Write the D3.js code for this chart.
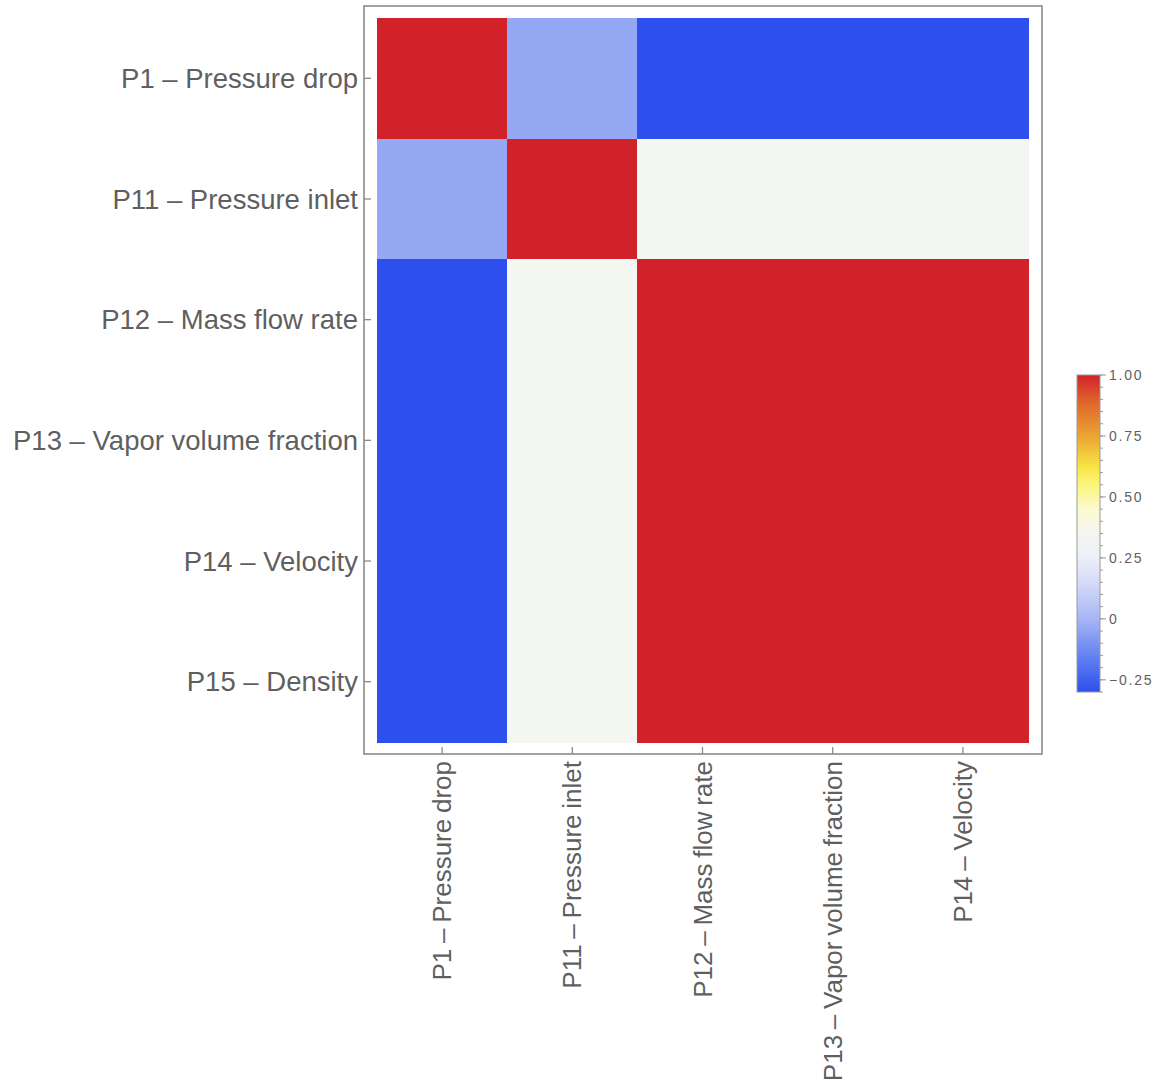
<!DOCTYPE html>
<html>
<head>
<meta charset="utf-8">
<script src="https://cdn.jsdelivr.net/npm/d3@7"></script>
<style>
  body { margin: 0; background: #fff; }
  text { font-family: "Liberation Sans", Arial, sans-serif; fill: #5f5f5f; }
</style>
</head>
<body>
<div id="chart"></div>
<script>
const width = 1161;
const height = 1082;

// row / column variables
const rowLabels = ["P1 – Pressure drop", "P11 – Pressure inlet", "P12 – Mass flow rate",
  "P13 – Vapor volume fraction", "P14 – Velocity", "P15 – Density"];
const colLabels = ["P1 – Pressure drop", "P11 – Pressure inlet", "P12 – Mass flow rate",
  "P13 – Vapor volume fraction", "P14 – Velocity"];

// correlation values, one array per row
const rowP1  = [1.00, -0.04, -0.30, -0.30, -0.30];
const rowP11 = [-0.04, 1.00, 0.35, 0.35, 0.35];
const rowP12 = [-0.30, 0.35, 1.00, 1.00, 1.00];
const rowP13 = [-0.30, 0.35, 1.00, 1.00, 1.00];
const rowP14 = [-0.30, 0.35, 1.00, 1.00, 1.00];
const rowP15 = [-0.30, 0.35, 1.00, 1.00, 1.00];
const matrix = [rowP1, rowP11, rowP12, rowP13, rowP14, rowP15];

// legend ticks
const legendTicks = [1.00, 0.75, 0.50, 0.25, 0, -0.25];
const legendDomain = [-0.30, 1.00];

// temperature-map like gradient (value -> colour)
const stopValues = [-0.30, -0.15, 0.00, 0.15, 0.25, 0.35, 0.45, 0.55, 0.62, 0.75, 0.88, 1.00];
const stopColors = ["#2c4fed", "#6582f1", "#a6b6f5", "#d5dbf7", "#eceff8", "#f4f6f2",
  "#fbfad0", "#fbf47a", "#f8e647", "#eba433", "#df6a2c", "#d12229"];

const color = d3.scaleLinear().domain(stopValues).range(stopColors).clamp(true);

const svg = d3.select("#chart").append("svg")
  .attr("width", width)
  .attr("height", height);

// plot frame and cell area
const frame = { x0: 364, y0: 6, x1: 1042, y1: 754 };
const cells = { x0: 377, y0: 18, x1: 1028, y1: 742 };

const x = d3.scaleBand().domain(d3.range(colLabels.length)).range([cells.x0, cells.x1]).padding(0);
const y = d3.scaleBand().domain(d3.range(rowLabels.length)).range([cells.y0, cells.y1]).padding(0);

const flat = [];
matrix.forEach((row, i) => row.forEach((v, j) => flat.push({ i, j, v })));

svg.append("g")
  .attr("shape-rendering", "crispEdges")
  .selectAll("rect")
  .data(flat)
  .enter().append("rect")
    .attr("x", d => x(d.j))
    .attr("y", d => y(d.i))
    .attr("width", x.bandwidth() + 1)
    .attr("height", y.bandwidth() + 1)
    .attr("fill", d => color(d.v));

svg.append("rect")
  .attr("x", frame.x0)
  .attr("y", frame.y0)
  .attr("width", frame.x1 - frame.x0)
  .attr("height", frame.y1 - frame.y0)
  .attr("fill", "none")
  .attr("stroke", "#8a8a8a")
  .attr("stroke-width", 1.6);

// left ticks + labels
const left = svg.append("g");
rowLabels.forEach((lab, i) => {
  const yc = y(i) + y.bandwidth() / 2;
  left.append("line")
    .attr("x1", frame.x0).attr("x2", frame.x0 + 7)
    .attr("y1", yc).attr("y2", yc)
    .attr("stroke", "#8a8a8a").attr("stroke-width", 1.3);
  left.append("text")
    .attr("x", frame.x0 - 6)
    .attr("y", yc)
    .attr("dy", "0.35em")
    .attr("text-anchor", "end")
    .attr("font-size", 27.5)
    .text(lab);
});

// bottom ticks + rotated labels
const bottom = svg.append("g");
colLabels.forEach((lab, j) => {
  const xc = x(j) + x.bandwidth() / 2;
  bottom.append("line")
    .attr("x1", xc).attr("x2", xc)
    .attr("y1", frame.y1).attr("y2", frame.y1 - 7)
    .attr("stroke", "#8a8a8a").attr("stroke-width", 1.3);
  bottom.append("text")
    .attr("transform", `translate(${xc},${frame.y1 + 7}) rotate(-90)`)
    .attr("dy", "0.35em")
    .attr("text-anchor", "end")
    .attr("font-size", 26)
    .attr("word-spacing", -1.5)
    .text(lab);
});

// colour legend
const legend = { x: 1077, w: 23, y0: 375, y1: 692 };
const ly = d3.scaleLinear().domain(legendDomain).range([legend.y1, legend.y0]);

const defs = svg.append("defs");
const grad = defs.append("linearGradient")
  .attr("id", "legendGrad")
  .attr("x1", 0).attr("y1", 1).attr("x2", 0).attr("y2", 0);
stopValues.forEach((v, k) => {
  grad.append("stop")
    .attr("offset", (v - legendDomain[0]) / (legendDomain[1] - legendDomain[0]))
    .attr("stop-color", stopColors[k]);
});

svg.append("rect")
  .attr("x", legend.x)
  .attr("y", legend.y0)
  .attr("width", legend.w)
  .attr("height", legend.y1 - legend.y0)
  .attr("fill", "url(#legendGrad)")
  .attr("stroke", "#9a9a9a")
  .attr("stroke-width", 1);

// minor ticks every 0.05
const minor = d3.range(-0.30, 1.0001, 0.05);
svg.append("g").selectAll("line")
  .data(minor)
  .enter().append("line")
    .attr("x1", legend.x + legend.w)
    .attr("x2", legend.x + legend.w + 3)
    .attr("y1", d => ly(d))
    .attr("y2", d => ly(d))
    .attr("stroke", "#9a9a9a")
    .attr("stroke-width", 1);

const fmt = d => d === 0 ? "0" : (d < 0 ? "\u2212" + d3.format(".2f")(-d) : d3.format(".2f")(d));
const major = svg.append("g").selectAll("g")
  .data(legendTicks)
  .enter().append("g");
major.append("line")
  .attr("x1", legend.x + legend.w)
  .attr("x2", legend.x + legend.w + 6)
  .attr("y1", d => ly(d))
  .attr("y2", d => ly(d))
  .attr("stroke", "#9a9a9a")
  .attr("stroke-width", 1);
major.append("text")
  .attr("x", legend.x + legend.w + 9)
  .attr("y", d => ly(d))
  .attr("dy", "0.35em")
  .attr("font-size", 14)
  .attr("letter-spacing", 1.8)
  .text(fmt);
</script>
</body>
</html>
